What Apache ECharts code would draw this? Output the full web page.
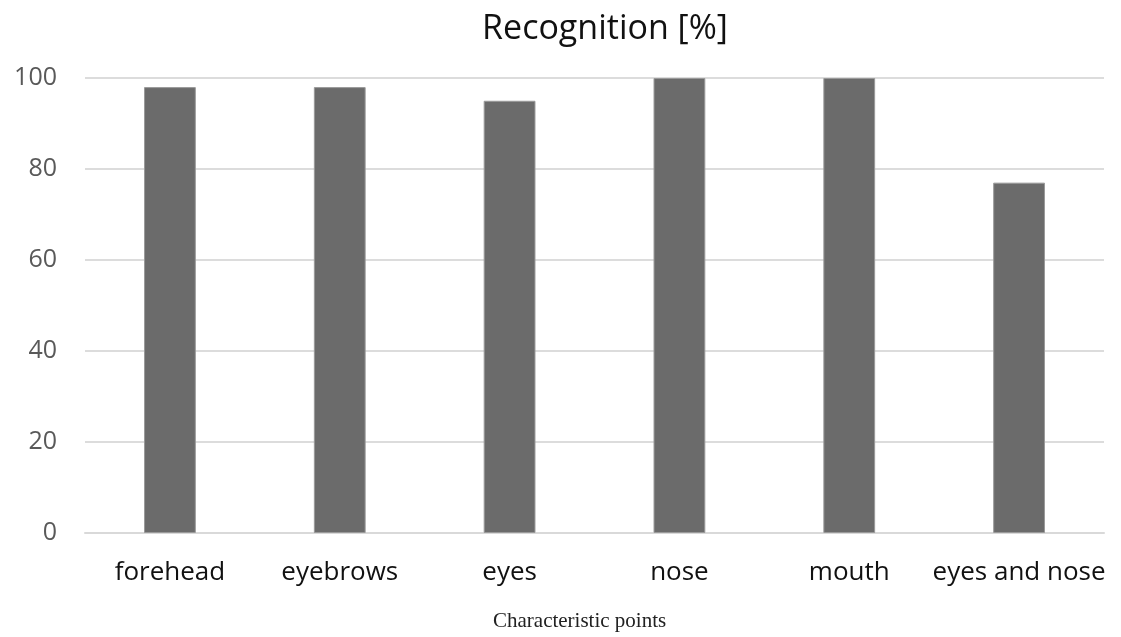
<!DOCTYPE html>
<html>
<head>
<meta charset="utf-8">
<script src="https://cdn.jsdelivr.net/npm/echarts@6/dist/echarts.min.js"></script>
<style>
  html, body { margin: 0; padding: 0; background: #ffffff; }
  #chart { width: 1121px; height: 637px; }
</style>
</head>
<body>
<div id="chart"></div>
<script>
// Recognition rate per set of characteristic points
const categories = ['forehead', 'eyebrows', 'eyes', 'nose', 'mouth', 'eyes and nose'];
const recognition = [98, 98, 95, 100, 100, 77];
const yTicks = { min: 0, max: 100, interval: 20 };

const chart = echarts.init(document.getElementById('chart'), null, { renderer: 'canvas' });

chart.setOption({
  animation: false,
  backgroundColor: '#ffffff',
  title: {
    text: 'Recognition [%]',
    left: 600,
    top: 7,
    textAlign: 'center',
    textStyle: {
      fontFamily: 'Open Sans',
      fontSize: 34,
      fontWeight: 'normal',
      color: '#111111'
    }
  },
  graphic: [{
    type: 'text',
    left: 493,
    top: 611,
    style: {
      text: 'Characteristic points',
      font: '21px "Liberation Serif"',
      fill: '#222222'
    }
  }],
  grid: { left: 85, right: 17, top: 78, bottom: 104, containLabel: false },
  xAxis: {
    type: 'category',
    data: categories,
    axisLine: { show: true, lineStyle: { color: '#d9d9d9', width: 2 } },
    axisTick: { show: false },
    axisLabel: {
      interval: 0,
      margin: 27,
      fontFamily: 'Open Sans',
      fontSize: 26,
      color: '#111111'
    }
  },
  yAxis: {
    type: 'value',
    min: yTicks.min,
    max: yTicks.max,
    interval: yTicks.interval,
    axisLine: { show: false },
    axisTick: { show: false },
    splitLine: { lineStyle: { color: '#dcdcdc', width: 2 } },
    axisLabel: {
      margin: 28,
      padding: [5, 0, 0, 0],
      fontFamily: 'Open Sans',
      fontSize: 25,
      color: '#595959'
    }
  },
  series: [{
    type: 'bar',
    data: recognition,
    barWidth: '30.5%',
    itemStyle: {
      color: '#6b6b6b',
      borderColor: '#9a9a9a',
      borderWidth: 1
    }
  }]
});
</script>
</body>
</html>
